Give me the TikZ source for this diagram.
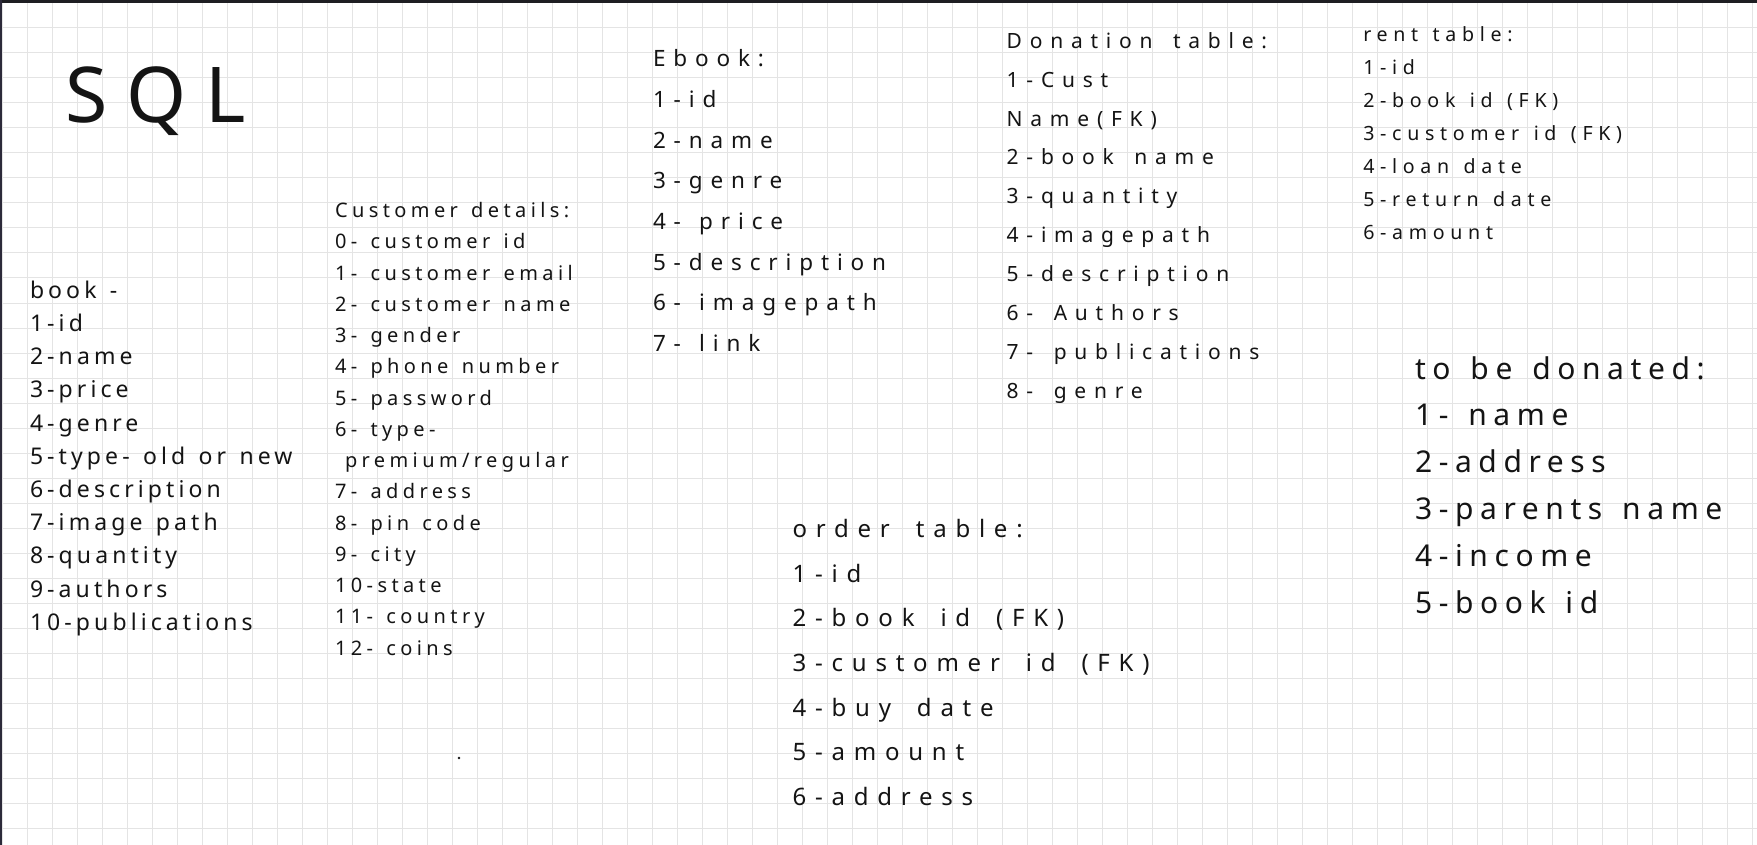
\documentclass[tikz,border=0pt]{standalone}
\usepackage{fontspec}
\setmainfont{Noto Sans}
\newfontfamily\fsql[LetterSpace=25]{Noto Sans}
\newfontfamily\fbook[LetterSpace=17.8,WordSpace=1.33]{Noto Sans}
\newfontfamily\fcust[LetterSpace=22,WordSpace=1.38]{Noto Sans}
\newfontfamily\febook[LetterSpace=35,WordSpace=1.33]{Noto Sans}
\newfontfamily\fdon[LetterSpace=37,WordSpace=1.55]{Noto Sans}
\newfontfamily\frent[LetterSpace=29,WordSpace=1.34]{Noto Sans}
\newfontfamily\ftbd[LetterSpace=22,WordSpace=1.38]{Noto Sans}
\newfontfamily\forder[LetterSpace=36.5,WordSpace=1.73]{Noto Sans}
\definecolor{ink}{HTML}{141414}
\definecolor{gridc}{HTML}{E4E4E4}
\definecolor{edgeL}{HTML}{2C2A3A}
\definecolor{edgeT}{HTML}{1E1E22}
\tikzset{
  cell/.style={anchor=base west, inner sep=0pt, outer sep=0pt, text=ink},
  sqlf/.style={cell, font=\fsql\fontsize{77}{90}\selectfont},
  bookf/.style={cell, font=\fbook\fontsize{23}{28}\selectfont},
  custf/.style={cell, font=\fcust\fontsize{20}{24}\selectfont},
  ebookf/.style={cell, font=\febook\fontsize{22.5}{27}\selectfont},
  donf/.style={cell, font=\fdon\fontsize{21}{25}\selectfont},
  rentf/.style={cell, font=\frent\fontsize{19.6}{24}\selectfont},
  tbdf/.style={cell, font=\ftbd\fontsize{30}{36}\selectfont},
  orderf/.style={cell, font=\forder\fontsize{24}{29}\selectfont},
  gridline/.style={draw=gridc, line width=1pt}
}
\begin{document}
\begin{tikzpicture}[x=1pt, y=-1pt]
\useasboundingbox (0,0) rectangle (1757,845);
\fill[white] (0,0) rectangle (1757,845);
% grid
\foreach \k in {0,...,70} \draw[gridline] ({2+25*\k},0) -- ({2+25*\k},845);
\foreach \k in {0,...,33} \draw[gridline] (0,{3+25*\k}) -- (1757,{3+25*\k});
% frame edges
\fill[edgeT] (0,0) rectangle (1757,3);
\fill[edgeL] (0,0) rectangle (2.3,845);
% title
\node[sqlf] (sql) at (65,123) {SQL};
% book
\foreach \t [count=\i from 0] in {book -, 1-id, 2-name, 3-price, 4-genre, 5-type- old or new, 6-description, 7-image path, 8-quantity, 9-authors, 10-publications}
  \node[bookf] (book\i) at (30,{298.3+33.2*\i}) {\t};
% customer details
\foreach \t [count=\i from 0] in {Customer details:, 0- customer id, 1- customer email, 2- customer name, 3- gender, 4- phone number, 5- password, 6- type-, {\hspace*{10pt}premium/regular}, 7- address, 8- pin code, 9- city, 10-state, 11- country, 12- coins}
  \node[custf] (cust\i) at (335,{217.7+31.24*\i}) {\t};
% ebook
\foreach \t [count=\i from 0] in {Ebook:, 1-id, 2-name, 3-genre, 4- price, 5-description, 6- imagepath, 7- link}
  \node[ebookf] (ebook\i) at (653,{66.7+40.7*\i}) {\t};
% donation table
\foreach \t [count=\i from 0] in {Donation table:, 1-Cust, Name(FK), 2-book name, 3-quantity, 4-imagepath, 5-description, 6- Authors, 7- publications, 8- genre}
  \node[donf] (don\i) at (1006.7,{48.3+38.9*\i}) {\t};
% rent table
\foreach \t [count=\i from 0] in {rent table:, 1-id, 2-book id (FK), 3-customer id (FK), 4-loan date, 5-return date, 6-amount}
  \node[rentf] (rent\i) at (1363.3,{41.7+32.93*\i}) {\t};
% to be donated
\foreach \t [count=\i from 0] in {to be donated:, 1- name, 2-address, 3-parents name, 4-income, 5-book id}
  \node[tbdf] (tbd\i) at (1415,{379+46.9*\i}) {\t};
% order table
\foreach \t [count=\i from 0] in {order table:, 1-id, 2-book id (FK), 3-customer id (FK), 4-buy date, 5-amount, 6-address}
  \node[orderf] (order\i) at (792.7,{537.3+44.73*\i}) {\t};
% stray dot
\fill[ink] (459,758) circle (1.3);
\end{tikzpicture}
\end{document}
